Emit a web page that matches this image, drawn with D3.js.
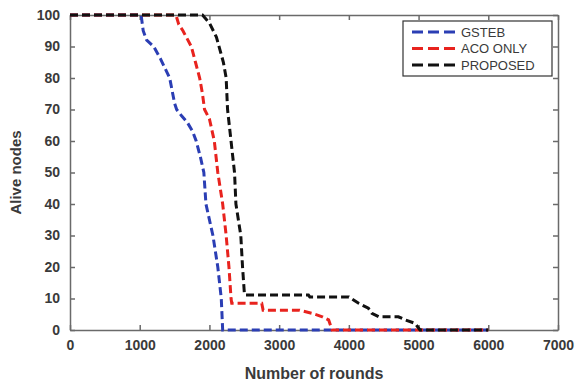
<!DOCTYPE html>
<html>
<head>
<meta charset="utf-8">
<script src="https://cdn.jsdelivr.net/npm/d3@7/dist/d3.min.js"></script>
<style>
  body { margin: 0; background: #fff; }
  svg text { font-family: "Liberation Sans", Arial, sans-serif; fill: #3a3a3a; font-weight: bold; }
</style>
</head>
<body>
<svg id="chart" width="582" height="383"></svg>
<script>
// rounds vs alive nodes
var seriesNames = ["GSTEB", "ACO ONLY", "PROPOSED"];
var seriesColors = ["#2b3eb4", "#e8231e", "#111111"];

var gsteb = [[0,100],[1020,100],[1050,95],[1100,92],[1200,90],[1300,86],[1430,80],[1500,72],[1530,70],
  [1600,68],[1680,66],[1760,63],[1810,60],[1870,55],[1920,50],[1950,40],[2050,30],[2120,20],[2170,10],
  [2190,0],[6000,0]];
var acoOnly = [[0,100],[1520,100],[1560,97],[1620,95],[1740,90],[1800,85],[1860,80],[1900,75],[1930,70],
  [2000,67],[2070,60],[2120,50],[2190,40],[2240,30],[2280,20],[2310,10],[2320,8.5],[2750,8.5],[2770,6.3],
  [3290,6.3],[3470,5.3],[3620,4.2],[3710,3.2],[3760,0],[6000,0]];
var proposed = [[0,100],[1900,100],[2000,97.5],[2100,93],[2150,89],[2200,85],[2240,80],[2260,70],[2310,60],
  [2360,50],[2380,40],[2450,30],[2475,20],[2500,12],[2510,11.1],[3420,11.1],[3440,10.5],[4000,10.5],
  [4140,8.5],[4280,6.9],[4330,5.3],[4430,4.2],[4710,4.2],[4810,3.2],[4950,2.1],[5020,0],[6000,0]];
var seriesData = [gsteb, acoOnly, proposed];

var xTicks = [0, 1000, 2000, 3000, 4000, 5000, 6000, 7000];
var yTicks = [0, 10, 20, 30, 40, 50, 60, 70, 80, 90, 100];

var svg = d3.select("#chart");
var margin = {top: 15, right: 24, bottom: 53, left: 70},
    width = 582 - margin.left - margin.right,
    height = 383 - margin.top - margin.bottom;

var x = d3.scaleLinear().domain([0, 7000]).range([0, width]);
var y = d3.scaleLinear().domain([0, 100]).range([height, 0]);

var g = svg.append("g").attr("transform", "translate(" + margin.left + "," + margin.top + ")");

// inward ticks on all four sides, like matlab
g.append("g").attr("transform", "translate(0," + height + ")")
  .call(d3.axisBottom(x).tickValues(xTicks).tickFormat(d3.format("d"))
    .tickSizeInner(-5).tickSizeOuter(0).tickPadding(10));
g.append("g").call(d3.axisTop(x).tickValues(xTicks).tickSizeInner(-5).tickSizeOuter(0).tickFormat(""));
g.append("g").call(d3.axisLeft(y).tickValues(yTicks).tickSizeInner(-5).tickSizeOuter(0).tickPadding(10));
g.append("g").attr("transform", "translate(" + width + ",0)")
  .call(d3.axisRight(y).tickValues(yTicks).tickSizeInner(-5).tickSizeOuter(0).tickFormat(""));

g.selectAll(".domain, .tick line").style("stroke", "#6a6a6a").style("stroke-width", 1.5);
g.selectAll(".tick text").style("font-size", "14px");

var line = d3.line()
  .x(function(d) { return x(d[0]); })
  .y(function(d) { return y(d[1]); });

// blue first, black last so black sits on top where they overlap
seriesData.forEach(function(s, i) {
  g.append("path")
    .datum(s)
    .attr("d", line)
    .style("fill", "none")
    .style("stroke", seriesColors[i])
    .style("stroke-width", 3)
    .style("stroke-dasharray", "8,4");
});

// axis labels
svg.append("text")
  .attr("x", margin.left + x(3500))
  .attr("y", 379)
  .style("text-anchor", "middle")
  .style("font-size", "16px")
  .text("Number of rounds");

svg.append("text")
  .attr("transform", "translate(21," + (margin.top + height / 2) + ") rotate(-90)")
  .style("text-anchor", "middle")
  .style("font-size", "15px")
  .text("Alive nodes");

// legend
var lg = svg.append("g").attr("transform", "translate(403,21)");
lg.append("rect")
  .attr("width", 149).attr("height", 55)
  .style("fill", "#fff").style("stroke", "#333").style("stroke-width", 1.2);

var items = lg.selectAll(".legend")
  .data(seriesNames)
  .enter().append("g")
  .attr("class", "legend")
  .attr("transform", function(d, i) { return "translate(0," + (11 + i * 16.5) + ")"; });

items.append("line")
  .attr("x1", 9).attr("x2", 52)
  .style("stroke", function(d, i) { return seriesColors[i]; })
  .style("stroke-width", 3)
  .style("stroke-dasharray", "11,5");

items.append("text")
  .attr("x", 58)
  .attr("dy", "0.36em")
  .style("font-size", "13px")
  .style("font-weight", "normal")
  .text(function(d) { return d; });
</script>
</body>
</html>
